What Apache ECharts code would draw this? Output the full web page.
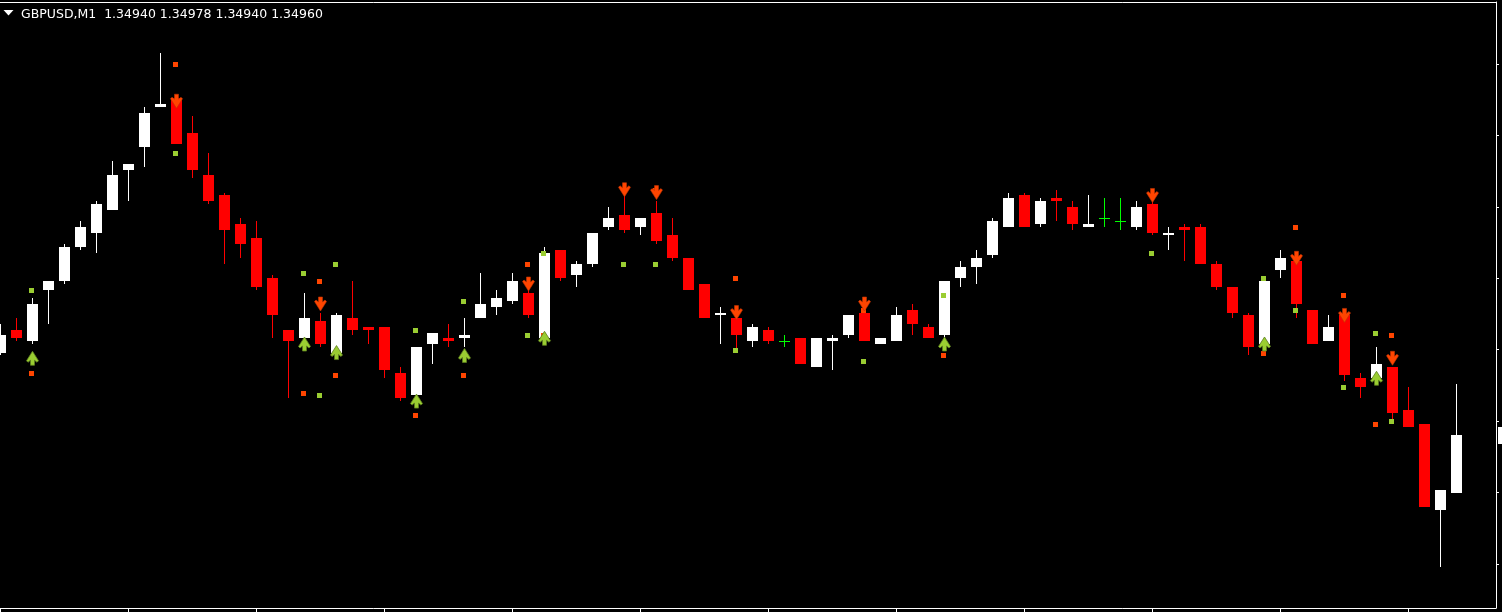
<!DOCTYPE html>
<html><head><meta charset="utf-8">
<script src="https://cdn.jsdelivr.net/npm/echarts@6/dist/echarts.min.js"></script>
<style>html,body{margin:0;padding:0;background:#000;overflow:hidden}#c{width:1502px;height:612px;}</style>
</head><body><div id="c"></div>
<script>
// ---- header ----
const symbolName = 'GBPUSD,M1';
const headerOHLC = ['1.34940', '1.34978', '1.34940', '1.34960'];

// ---- OHLC of the 92 visible M1 bars (oldest -> newest) ----
const opens = [
 1.34989,1.34997,1.34993,1.35011,1.35014,1.35026,1.35031,1.35039,1.35053,1.35061,
 1.35075,1.35078,1.35066,1.35051,1.35044,1.35034,1.35029,1.35015,1.34997,1.34994,
 1.35000,1.34989,1.35001,1.34998,1.34998,1.34982,1.34974,1.34992,1.34994,1.34994,
 1.35001,1.35005,1.35007,1.35010,1.34994,1.35025,1.35016,1.35020,1.35033,1.35037,
 1.35033,1.35038,1.35030,1.35022,1.35013,1.35002,1.35001,1.34993,1.34997,1.34993,
 1.34994,1.34984,1.34993,1.34995,1.35003,1.34992,1.34993,1.35004,1.34998,1.34995,
 1.35015,1.35019,1.35023,1.35033,1.35044,1.35034,1.35043,1.35040,1.35033,1.35036,
 1.35035,1.35033,1.35041,1.35030,1.35033,1.35033,1.35020,1.35012,1.35002,1.34992,
 1.35018,1.35021,1.35004,1.34993,1.35002,1.34980,1.34980,1.34984,1.34969,1.34964,
 1.34934,1.34940];
const highs = [
 1.34999,1.35001,1.35008,1.35014,1.35027,1.35035,1.35042,1.35056,1.35055,1.35075,
 1.35094,1.35079,1.35072,1.35059,1.35045,1.35036,1.35035,1.35016,1.34997,1.35010,
 1.35003,1.35003,1.35014,1.34998,1.34998,1.34984,1.34991,1.34996,1.34999,1.35001,
 1.35017,1.35011,1.35017,1.35011,1.35026,1.35025,1.35021,1.35031,1.35040,1.35044,
 1.35036,1.35042,1.35036,1.35022,1.35013,1.35005,1.35003,1.34999,1.34998,1.34995,
 1.34994,1.34994,1.34995,1.35002,1.35004,1.34994,1.35005,1.35006,1.34999,1.35014,
 1.35021,1.35025,1.35036,1.35045,1.35045,1.35043,1.35046,1.35042,1.35044,1.35043,
 1.35043,1.35042,1.35042,1.35033,1.35034,1.35034,1.35021,1.35012,1.35003,1.35015,
 1.35025,1.35022,1.35004,1.35002,1.35003,1.34982,1.34991,1.34984,1.34977,1.34964,
 1.34941,1.34978];
const lows = [
 1.34988,1.34993,1.34992,1.34999,1.35013,1.35025,1.35024,1.35039,1.35042,1.35054,
 1.35075,1.35062,1.35050,1.35041,1.35020,1.35022,1.35011,1.34994,1.34973,1.34993,
 1.34991,1.34988,1.34995,1.34992,1.34980,1.34972,1.34973,1.34985,1.34991,1.34991,
 1.35001,1.35002,1.35006,1.35001,1.34994,1.35014,1.35012,1.35019,1.35032,1.35031,
 1.35030,1.35027,1.35021,1.35011,1.35001,1.34992,1.34990,1.34991,1.34992,1.34991,
 1.34985,1.34984,1.34983,1.34994,1.34993,1.34992,1.34993,1.34995,1.34994,1.34994,
 1.35012,1.35013,1.35022,1.35033,1.35033,1.35033,1.35035,1.35032,1.35033,1.35033,
 1.35032,1.35032,1.35030,1.35025,1.35021,1.35020,1.35011,1.35001,1.34988,1.34991,
 1.35015,1.35001,1.34992,1.34993,1.34979,1.34973,1.34979,1.34965,1.34963,1.34935,
 1.34914,1.34940];
const closes = [
 1.34995,1.34994,1.35006,1.35014,1.35026,1.35033,1.35041,1.35051,1.35055,1.35073,
 1.35076,1.35062,1.35053,1.35042,1.35032,1.35027,1.35012,1.35002,1.34993,1.35001,
 1.34992,1.35002,1.34997,1.34997,1.34983,1.34973,1.34991,1.34996,1.34993,1.34995,
 1.35006,1.35008,1.35014,1.35002,1.35024,1.35015,1.35020,1.35031,1.35036,1.35032,
 1.35036,1.35028,1.35022,1.35011,1.35001,1.35003,1.34995,1.34998,1.34993,1.34993,
 1.34985,1.34994,1.34994,1.35002,1.34993,1.34994,1.35002,1.34999,1.34994,1.35014,
 1.35019,1.35022,1.35035,1.35043,1.35033,1.35042,1.35042,1.35034,1.35034,1.35036,
 1.35035,1.35040,1.35031,1.35031,1.35032,1.35020,1.35012,1.35003,1.34991,1.35014,
 1.35022,1.35006,1.34992,1.34998,1.34981,1.34977,1.34985,1.34968,1.34963,1.34935,
 1.34941,1.34960];

// ---- indicator marks: [bar index, price] ----
const downArrows = [[11,1.35077],[20,1.35006],[33,1.35013],[39,1.35046],[41,1.35045],[46,1.35003],
 [54,1.35006],[72,1.35044],[81,1.35022],[84,1.35002],[87,1.34987]];
const upArrows = [[2,1.34987],[19,1.34992],[21,1.34989],[26,1.34972],[29,1.34988],[34,1.34994],
 [59,1.34992],[79,1.34992],[86,1.34980]];
const greenDots = [[2,1.35011],[11,1.35059],[19,1.35017],[20,1.34974],[21,1.35020],[26,1.34997],
 [29,1.35007],[33,1.34995],[34,1.35024],[39,1.35020],[41,1.35020],[46,1.34990],[54,1.34986],
 [59,1.35009],[72,1.35024],[79,1.35015],[81,1.35004],[84,1.34977],[86,1.34996],[87,1.34965]];
const redDots = [[2,1.34982],[11,1.35090],[19,1.34975],[20,1.35014],[21,1.34981],[26,1.34967],
 [29,1.34981],[33,1.35020],[34,1.34995],[41,1.35046],[46,1.35015],[54,1.35004],[59,1.34988],
 [79,1.34989],[81,1.35033],[84,1.35009],[86,1.34964],[87,1.34995]];

// ---- axis ticks ----
const priceTicks = [1.34915,1.34940,1.34965,1.34990,1.35015,1.35040,1.35065,1.35090];
const timeTicks = [0,8,16,24,32,40,48,56,64,72,80,88];
const priceMin = 1.3489956, priceMax = 1.3511174;
const barMin = 0, barMax = 93.5;

const candleData = opens.map((o, i) => [i, o, highs[i], lows[i], closes[i]]);

function renderCandle(params, api) {
  const i = api.value(0), o = api.value(1), h = api.value(2), l = api.value(3), c = api.value(4);
  const pO = api.coord([i, o]), pC = api.coord([i, c]), pH = api.coord([i, h]), pL = api.coord([i, l]);
  const cx = Math.round(pO[0]);
  const yH = Math.round(pH[1]), yL = Math.round(pL[1]);
  const children = [];
  let color;
  if (o === c) {
    color = '#00FF00';
    const y = Math.round(pO[1]) + 0.5;
    children.push({type:'line', shape:{x1:cx-5, y1:y, x2:cx+6, y2:y}, style:{stroke:color, lineWidth:1}});
  } else {
    color = c > o ? '#FFFFFF' : '#FF0000';
  }
  children.push({type:'line', shape:{x1:cx+0.5, y1:yH, x2:cx+0.5, y2:Math.max(yL, yH+1)}, style:{stroke:color, lineWidth:1}});
  if (o !== c) {
    const yT = Math.round(Math.min(pO[1], pC[1])), yB = Math.round(Math.max(pO[1], pC[1]));
    children.push({type:'rect', shape:{x:cx-5, y:yT, width:11, height:Math.max(1, yB-yT)}, style:{fill:color}});
  }
  return {type:'group', children};
}
function dotRenderer(color) {
  return function (params, api) {
    const p = api.coord([api.value(0), api.value(1)]);
    return {type:'rect', shape:{x:Math.round(p[0])-3, y:Math.round(p[1])-2, width:5, height:5}, style:{fill:color}};
  };
}
const downPath = 'path://M4,0 L8,0 L8,5 L10.5,3 L12,4.5 L6,14 L0,4.5 L1.5,3 L4,5 Z';
const upPath = 'path://M4,14 L8,14 L8,9 L10.5,11 L12,9.5 L6,0 L0,9.5 L1.5,11 L4,9 Z';

const chart = echarts.init(document.getElementById('c'), null, {renderer:'canvas'});
chart.setOption({
  backgroundColor:'#000000',
  animation:false,
  grid:{left:0, right:6, top:2, bottom:4},
  xAxis:[
    {type:'value', min:barMin, max:barMax, position:'bottom',
     axisLine:{show:true, onZero:false, lineStyle:{color:'#FFFFFF', width:1}},
     axisTick:{show:true, inside:false, length:4, customValues:timeTicks, lineStyle:{color:'#FFFFFF'}},
     axisLabel:{show:false}, splitLine:{show:false}},
    {type:'value', min:barMin, max:barMax, position:'top',
     axisLine:{show:true, onZero:false, lineStyle:{color:'#FFFFFF', width:1}},
     axisTick:{show:false}, axisLabel:{show:false}, splitLine:{show:false}}
  ],
  yAxis:{type:'value', min:priceMin, max:priceMax, position:'right',
    axisLine:{show:true, onZero:false, lineStyle:{color:'#FFFFFF', width:1}},
    axisTick:{show:true, inside:false, length:3, customValues:priceTicks, lineStyle:{color:'#FFFFFF'}},
    axisLabel:{show:false}, splitLine:{show:false}},
  series:[
    {type:'custom', name:'bars', data:candleData, encode:{x:0, y:[1,2,3,4]}, renderItem:renderCandle, clip:true, silent:true},
    {type:'scatter', name:'sell', data:downArrows, symbol:downPath, symbolSize:[12,14], symbolOffset:[0.5,0],
     itemStyle:{color:'#FF4500', borderColor:'#C23400', borderWidth:0.6, opacity:1}, silent:true},
    {type:'scatter', name:'buy', data:upArrows, symbol:upPath, symbolSize:[12,14], symbolOffset:[0.5,0],
     itemStyle:{color:'#9ACD32', borderColor:'#5E7F1F', borderWidth:0.8, opacity:1}, silent:true},
    {type:'custom', name:'greenDots', data:greenDots, encode:{x:0, y:1}, renderItem:dotRenderer('#9ACD32'), silent:true},
    {type:'custom', name:'redDots', data:redDots, encode:{x:0, y:1}, renderItem:dotRenderer('#FF4500'), silent:true}
  ]
});

const lastClose = closes[closes.length - 1];
const py = chart.convertToPixel({gridIndex:0}, [barMin, lastClose])[1];
chart.setOption({
  graphic:[
    {type:'polygon', shape:{points:[[3.5,10],[13.5,10],[8.5,15.5]]}, style:{fill:'#FFFFFF'}},
    {type:'text', x:21, y:14.5, style:{text: symbolName + '  ' + headerOHLC.join(' '), fill:'#FFFFFF',
      font:'12.5px "DejaVu Sans"', verticalAlign:'middle', align:'left'}},
    {type:'rect', shape:{x:1498, y:Math.round(py)-8, width:10, height:17}, style:{fill:'#FFFFFF'}}
  ]
});
</script>
</body></html>
